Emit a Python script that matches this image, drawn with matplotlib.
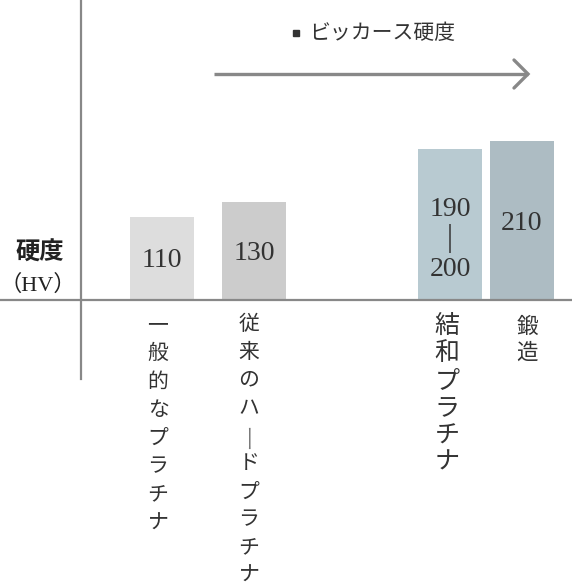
import matplotlib
matplotlib.use("Agg")
import matplotlib.pyplot as plt

# data
categories = ["一般的なプラチナ", "従来のハードプラチナ", "結和プラチナ", "鍛造"]
hardness = [110, 130, 200, 210]
value_labels = [["110"], ["130"], ["190", "|", "200"], ["210"]]
bar_colors = ["#dddddd", "#cccccc", "#b8cad1", "#adbcc3"]
legend_text = "ビッカース硬度"
axis_title = "硬度"
axis_unit = "（HV）"

# layout (pixels)
W, H = 572, 588
BASE = 300          # baseline y from top
K = 0.755           # px per HV unit
bar_x = [162, 254, 450, 522]
label_x = [158, 249, 447, 527]
label_y0 = [325, 324, 326, 327]
label_size = [15, 15, 18, 15.5]
label_step = [28.2, 27.9, 27.4, 26]

JP = ["Noto Sans CJK JP", "DejaVu Sans"]
SERIF = ["Liberation Serif", "Noto Sans CJK JP"]
GRAY = "#888888"


def py(ypx):
    return (BASE - ypx) / K


fig = plt.figure(figsize=(W / 100, H / 100), dpi=100)
ax = fig.add_axes([0, 0, 1, 1])
ax.set_xlim(0, W)
ax.set_ylim(py(H), py(0))
ax.axis("off")

ax.bar(bar_x, hardness, width=64, color=bar_colors, zorder=2)

# axis lines
ax.plot([0, W], [0, 0], color=GRAY, lw=1.6, zorder=3)
ax.plot([81, 81], [py(0), py(379)], color=GRAY, lw=1.6, zorder=3)

# value labels in the middle of bars (baseline a little below centre)
for x, v, parts in zip(bar_x, hardness, value_labels):
    mid = BASE - v * K / 2
    if len(parts) == 1:
        ax.text(x, py(mid + 9), parts[0], ha="center", va="baseline",
                family=SERIF, fontsize=20, color="#333333", zorder=4)
    else:
        for j, t in enumerate(parts):
            ax.text(x, py(mid - 17 + j * 29.5 + 9), t, ha="center", va="baseline",
                    family=SERIF, fontsize=22 if t == "|" else 20,
                    color="#333333", zorder=4)

# vertical category labels (long vowel mark turned upright as in tategaki)
for x, name, y0, fs, step in zip(label_x, categories, label_y0, label_size, label_step):
    for i, ch in enumerate(name):
        if ch == "ー":
            ax.text(x, py(y0 + i * step), ch, ha="center", va="center",
                    family=JP, fontsize=fs * 1.3, fontweight="light",
                    color="#777777", rotation=90)
        else:
            ax.text(x, py(y0 + i * step), ch, ha="center", va="center",
                    family=JP, fontsize=fs, color="#333333")

# y axis title
ax.text(40, py(253), axis_title, ha="center", va="center", family=JP,
        fontsize=17.5, fontweight="bold", color="#222222")
ax.text(38, py(285), axis_unit, ha="center", va="center", family=SERIF,
        fontsize=16, color="#222222")

# legend
ax.plot([296], [py(33)], marker="s", ms=4, color="#333333", ls="none")
ax.text(309, py(33), legend_text, ha="left", va="center", family=JP,
        fontsize=15, color="#333333")

# arrow
ax.plot([214, 528], [py(74), py(74)], color=GRAY, lw=2.4, solid_capstyle="butt")
ax.plot([514, 528, 514], [py(60), py(74), py(88)], color=GRAY, lw=2.4,
        solid_capstyle="round", solid_joinstyle="miter")

fig.savefig("out.png", dpi=100)
